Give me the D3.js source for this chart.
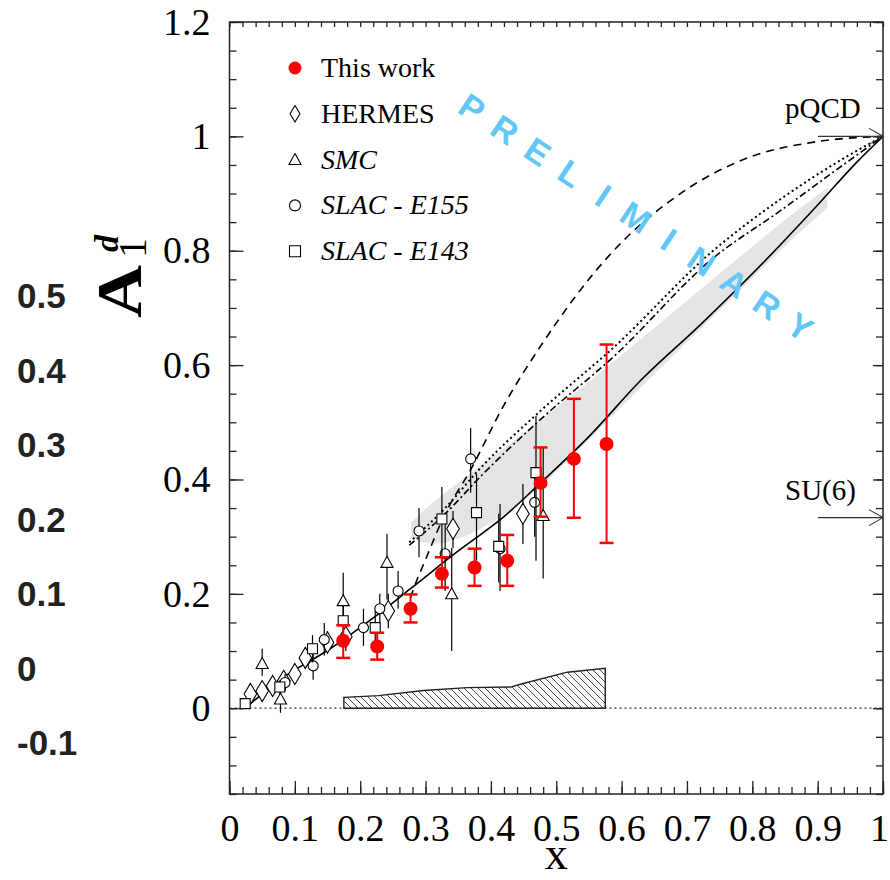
<!DOCTYPE html>
<html>
<head>
<meta charset="utf-8">
<script src="https://cdn.jsdelivr.net/npm/d3@7"></script>
<style>
  body { margin: 0; background: #fff; }
  svg text { font-family: "Liberation Serif", "Times New Roman", serif; fill: #000; }
</style>
</head>
<body>
<div id="chart"></div>
<script>
// ---- data ----
// this work: [x, A1d, low, high]
const thisWork = [
  [0.174, 0.118, 0.088, 0.145],
  [0.226, 0.108, 0.085, 0.132],
  [0.277, 0.174, 0.150, 0.199],
  [0.325, 0.235, 0.211, 0.264],
  [0.375, 0.246, 0.214, 0.279],
  [0.425, 0.258, 0.214, 0.303],
  [0.476, 0.394, 0.335, 0.456],
  [0.527, 0.436, 0.333, 0.541],
  [0.577, 0.462, 0.289, 0.636]
];
// world data: [x, A1d, low, high]
const hermes = [
  [0.032, 0.025, 0.020, 0.030], [0.050, 0.030, 0.024, 0.036], [0.066, 0.039, 0.032, 0.046],
  [0.083, 0.048, 0.040, 0.056], [0.100, 0.060, 0.050, 0.070], [0.116, 0.088, 0.070, 0.106],
  [0.150, 0.115, 0.095, 0.135], [0.178, 0.125, 0.100, 0.150], [0.243, 0.170, 0.140, 0.200],
  [0.342, 0.314, 0.280, 0.345], [0.449, 0.340, 0.287, 0.392]
];
const smc = [
  [0.050, 0.078, 0.057, 0.104], [0.078, 0.016, -0.008, 0.043], [0.174, 0.188, 0.148, 0.237],
  [0.241, 0.255, 0.190, 0.305], [0.340, 0.200, 0.100, 0.280], [0.480, 0.337, 0.227, 0.456]
];
const e155 = [
  [0.085, 0.045, 0.030, 0.060], [0.128, 0.074, 0.050, 0.100], [0.145, 0.120, 0.092, 0.149],
  [0.205, 0.141, 0.109, 0.174], [0.230, 0.174, 0.150, 0.200], [0.258, 0.205, 0.174, 0.240],
  [0.290, 0.310, 0.264, 0.350], [0.330, 0.270, 0.205, 0.330], [0.369, 0.436, 0.377, 0.490],
  [0.414, 0.279, 0.205, 0.357], [0.467, 0.360, 0.300, 0.420]
];
const e143 = [
  [0.024, 0.008, 0.000, 0.016], [0.077, 0.037, 0.025, 0.049], [0.127, 0.104, 0.080, 0.128],
  [0.174, 0.153, 0.125, 0.180], [0.223, 0.141, 0.110, 0.170], [0.325, 0.331, 0.253, 0.387],
  [0.378, 0.342, 0.258, 0.410], [0.412, 0.283, 0.220, 0.340], [0.469, 0.412, 0.258, 0.511]
];

// model curves
const fitX = [0.024, 0.08, 0.154, 0.22, 0.277, 0.35, 0.42, 0.476, 0.55, 0.629, 0.72, 0.82, 0.9, 0.96, 1.0];
const fitY = [0.0, 0.052, 0.104, 0.158, 0.209, 0.275, 0.335, 0.394, 0.475, 0.573, 0.67, 0.783, 0.88, 0.955, 1.0];
const dashX = [0.27, 0.282, 0.30, 0.33, 0.368, 0.42, 0.48, 0.578, 0.69, 0.792, 0.894, 1.0];
const dashY = [0.17, 0.21, 0.26, 0.34, 0.415, 0.53, 0.64, 0.788, 0.90, 0.962, 0.99, 1.0];
const dotX = [0.275, 0.33, 0.384, 0.476, 0.587, 0.74, 0.843, 0.945, 1.0];
const dotY = [0.29, 0.35, 0.42, 0.52, 0.63, 0.80, 0.89, 0.965, 1.0];
const dashDotY = [0.285, 0.34, 0.405, 0.505, 0.614, 0.787, 0.87, 0.955, 1.0];
const bandX = [0.278, 0.30, 0.35, 0.45, 0.55, 0.65, 0.75, 0.85, 0.915];
const bandHi = [0.325, 0.35, 0.395, 0.48, 0.57, 0.665, 0.76, 0.855, 0.91];
const bandLo = [0.30, 0.285, 0.29, 0.355, 0.47, 0.585, 0.695, 0.81, 0.875];
// systematic error band
const systX = [0.175, 0.228, 0.297, 0.364, 0.43, 0.445, 0.517, 0.575];
const systY = [0.019, 0.022, 0.031, 0.036, 0.037, 0.042, 0.063, 0.070];

// axes
const xMajor = [0, 0.1, 0.2, 0.3, 0.4, 0.5, 0.6, 0.7, 0.8, 0.9, 1];
const xLabels = ['0', '0.1', '0.2', '0.3', '0.4', '0.5', '0.6', '0.7', '0.8', '0.9', '1'];
const yMajor = [0, 0.2, 0.4, 0.6, 0.8, 1, 1.2];
const yLabels = ['0', '0.2', '0.4', '0.6', '0.8', '1', '1.2'];
const strayLabels = ['0.5', '0.4', '0.3', '0.2', '0.1', '0', '-0.1'];

const legendNames = ['This work', 'HERMES', 'SMC', 'SLAC - E155', 'SLAC - E143'];
const legendSymbols = ['dot', 'diamond', 'triangle', 'circle', 'square'];
const limits = [{ label: 'pQCD', value: 1 }, { label: 'SU(6)', value: 1 / 3 }];

// ---- drawing ----
const W = 890, H = 880;
const serif = '"Liberation Serif", "Times New Roman", serif';
const sans = '"Liberation Sans", Arial, sans-serif';
const x = d3.scaleLinear().domain([0, 1]).range([229.5, 883]);
const y = d3.scaleLinear().domain([-0.15, 1.2]).range([794, 22]);

const svg = d3.select('#chart').append('svg').attr('width', W).attr('height', H);

createStrayLabels(svg);
createBands(svg);
createCurves(svg);
createPoints(svg);
createAxes(svg);
createLegend(svg);
createLimits(svg);
createTitles(svg);
createWatermark(svg);

function createStrayLabels(svg) {
  svg.append('g').selectAll('text')
    .data(strayLabels)
    .enter().append('text')
    .attr('x', 17)
    .attr('y', (d, i) => 308 + i * 74.5)
    .style('font-family', sans)
    .style('font-weight', 'bold')
    .style('font-size', '35px')
    .style('fill', '#222')
    .text(d => d);
}

function createBands(svg) {
  const band = bandX.map((d, i) => [d, bandLo[i], bandHi[i]]);
  svg.append('path')
    .datum(band)
    .attr('fill', '#e4e4e4')
    .attr('d', d3.area()
      .x(d => x(d[0])).y0(d => y(d[1])).y1(d => y(d[2]))
      .curve(d3.curveBasis));

  const defs = svg.append('defs');
  defs.append('pattern')
    .attr('id', 'hatch')
    .attr('patternUnits', 'userSpaceOnUse')
    .attr('width', 7).attr('height', 7)
    .append('path')
    .attr('d', 'M-1,-1 L8,8 M-8,-1 L1,8 M6,-1 L15,8')
    .attr('stroke', '#333').attr('stroke-width', 0.9);

  const syst = systX.map((d, i) => [d, systY[i]]);
  svg.append('path')
    .datum(syst)
    .attr('fill', 'url(#hatch)')
    .attr('stroke', '#222')
    .attr('stroke-width', 1.4)
    .attr('d', d3.area().x(d => x(d[0])).y0(y(0)).y1(d => y(d[1])));

  svg.append('line')
    .attr('x1', x(0)).attr('x2', x(1))
    .attr('y1', y(0)).attr('y2', y(0))
    .attr('stroke', '#333')
    .attr('stroke-width', 1.2)
    .attr('stroke-dasharray', '2,3');
}

function createCurves(svg) {
  const line = d3.line().x(d => x(d[0])).y(d => y(d[1])).curve(d3.curveMonotoneX);
  const curves = [
    { xs: fitX, ys: fitY, dash: null, w: 1.6 },
    { xs: dashX, ys: dashY, dash: '8,6', w: 1.6 },
    { xs: dotX, ys: dotY, dash: '2,3', w: 2 },
    { xs: dotX, ys: dashDotY, dash: '7,3,2,3', w: 1.6 }
  ];
  svg.append('g').selectAll('path')
    .data(curves)
    .enter().append('path')
    .attr('fill', 'none')
    .attr('stroke', '#000')
    .attr('stroke-width', d => d.w)
    .attr('stroke-dasharray', d => d.dash)
    .attr('d', d => line(d.xs.map((v, i) => [v, d.ys[i]])));
}

function symbolPath(type, size) {
  const s = size;
  if (type === 'diamond') return `M0,${-s * 0.75} L${s * 0.45},0 L0,${s * 0.75} L${-s * 0.45},0 Z`;
  if (type === 'triangle') return `M0,${-s * 0.55} L${s * 0.55},${s * 0.45} L${-s * 0.55},${s * 0.45} Z`;
  if (type === 'square') return `M${-s / 2},${-s / 2} h${s} v${s} h${-s} Z`;
  return d3.arc()({ innerRadius: 0, outerRadius: s / 2, startAngle: 0, endAngle: 2 * Math.PI });
}

function createPoints(svg) {
  const sets = [
    { data: hermes, type: 'diamond', size: 14 },
    { data: smc, type: 'triangle', size: 11 },
    { data: e155, type: 'circle', size: 10 },
    { data: e143, type: 'square', size: 10 }
  ];
  sets.forEach(set => {
    const g = svg.append('g');
    g.selectAll('line')
      .data(set.data)
      .enter().append('line')
      .attr('x1', d => x(d[0])).attr('x2', d => x(d[0]))
      .attr('y1', d => y(d[2])).attr('y2', d => y(d[3]))
      .attr('stroke', '#000').attr('stroke-width', 1.2);
    g.selectAll('path')
      .data(set.data)
      .enter().append('path')
      .attr('transform', d => `translate(${x(d[0])},${y(d[1])})`)
      .attr('d', symbolPath(set.type, set.size))
      .attr('fill', 'white')
      .attr('stroke', '#000')
      .attr('stroke-width', 1.1);
  });

  const red = svg.append('g').attr('stroke', '#f00').attr('fill', '#f00');
  const cap = 7;
  const bars = red.selectAll('g.bar')
    .data(thisWork)
    .enter().append('g')
    .attr('class', 'bar');
  bars.append('line')
    .attr('x1', d => x(d[0])).attr('x2', d => x(d[0]))
    .attr('y1', d => y(d[2])).attr('y2', d => y(d[3]))
    .attr('stroke-width', 2);
  bars.append('line')
    .attr('x1', d => x(d[0]) - cap).attr('x2', d => x(d[0]) + cap)
    .attr('y1', d => y(d[2])).attr('y2', d => y(d[2]))
    .attr('stroke-width', 2.5);
  bars.append('line')
    .attr('x1', d => x(d[0]) - cap).attr('x2', d => x(d[0]) + cap)
    .attr('y1', d => y(d[3])).attr('y2', d => y(d[3]))
    .attr('stroke-width', 2.5);
  bars.append('circle')
    .attr('cx', d => x(d[0])).attr('cy', d => y(d[1]))
    .attr('r', 7).attr('stroke', 'none');
}

function createAxes(svg) {
  const x0 = x.range()[0], x1 = x.range()[1];
  const y0 = y.range()[0], y1 = y.range()[1];
  const xMinor = d3.range(0, 51).map(i => i / 50);
  const yMinor = d3.range(-3, 25).map(i => i / 20);
  const clean = g => {
    g.select('.domain').remove();
    g.attr('font-family', null);
    g.selectAll('line').attr('stroke', '#222').attr('stroke-width', 1.3);
  };

  svg.append('g').attr('transform', `translate(0,${y0})`)
    .call(d3.axisBottom(x).tickValues(xMinor).tickSize(-7).tickFormat(''))
    .call(clean);
  svg.append('g').attr('transform', `translate(0,${y0})`)
    .call(d3.axisBottom(x).tickValues(xMajor).tickSize(-13).tickPadding(20)
      .tickFormat((d, i) => xLabels[i]))
    .call(clean)
    .call(g => g.selectAll('text').style('font-size', '38px').style('font-family', serif))
    .call(g => g.selectAll('text').filter(d => d === 1).attr('dx', -4));
  svg.append('g').attr('transform', `translate(0,${y1})`)
    .call(d3.axisTop(x).tickValues(xMinor).tickSize(-5).tickFormat(''))
    .call(clean);

  svg.append('g').attr('transform', `translate(${x0},0)`)
    .call(d3.axisLeft(y).tickValues(yMinor).tickSize(-7).tickFormat(''))
    .call(clean);
  svg.append('g').attr('transform', `translate(${x0},0)`)
    .call(d3.axisLeft(y).tickValues(yMajor).tickSize(-14).tickPadding(19)
      .tickFormat((d, i) => yLabels[i]))
    .call(clean)
    .call(g => g.selectAll('text').style('font-size', '38px').style('font-family', serif));
  svg.append('g').attr('transform', `translate(${x1},0)`)
    .call(d3.axisRight(y).tickValues(yMinor).tickSize(-7).tickFormat(''))
    .call(clean);
  svg.append('g').attr('transform', `translate(${x1},0)`)
    .call(d3.axisRight(y).tickValues(yMajor).tickSize(-10).tickFormat(''))
    .call(clean);

  svg.append('rect')
    .attr('x', x0).attr('y', y1)
    .attr('width', x1 - x0).attr('height', y0 - y1)
    .attr('fill', 'none').attr('stroke', '#222').attr('stroke-width', 1.5);
}

function createLegend(svg) {
  const rows = svg.append('g').selectAll('g')
    .data(legendNames)
    .enter().append('g')
    .attr('transform', (d, i) => `translate(295,${68 + i * 45.8})`);
  rows.append('path')
    .attr('d', (d, i) => i === 0 ? symbolPath('circle', 13) : symbolPath(legendSymbols[i], 11))
    .attr('fill', (d, i) => i === 0 ? '#f00' : 'white')
    .attr('stroke', (d, i) => i === 0 ? 'none' : '#000')
    .attr('stroke-width', 1.1);
  rows.append('text')
    .attr('x', 26)
    .attr('y', 9)
    .style('font-family', serif)
    .style('font-size', '28px')
    .style('font-style', (d, i) => i >= 2 ? 'italic' : 'normal')
    .text(d => d);
}

function createLimits(svg) {
  const g = svg.append('g').selectAll('g')
    .data(limits)
    .enter().append('g')
    .attr('transform', d => `translate(0,${y(d.value)})`);
  g.append('line')
    .attr('x1', 818).attr('x2', x(1))
    .attr('stroke', '#333').attr('stroke-width', 1.3);
  g.append('path')
    .attr('d', `M${x(1) - 14},-8 L${x(1)},0 L${x(1) - 14},8`)
    .attr('fill', 'none').attr('stroke', '#333').attr('stroke-width', 1.1);
  g.append('text')
    .attr('x', 785).attr('y', -18)
    .style('font-family', serif)
    .style('font-size', '29px')
    .text(d => d.label);
}

function createTitles(svg) {
  svg.append('text')
    .attr('x', x(0.5)).attr('y', 869)
    .attr('text-anchor', 'middle')
    .style('font-family', serif)
    .style('font-size', '46px')
    .text('x');

  const t = svg.append('g').attr('transform', 'translate(141,318) rotate(-90)');
  t.append('text')
    .attr('transform', 'scale(1.15,1)')
    .style('font-family', serif)
    .style('font-size', '64px').style('font-weight', 'bold')
    .text('A');
  t.append('text')
    .attr('x', 60).attr('y', 5)
    .style('font-family', serif)
    .style('font-size', '40px')
    .text('1');
  t.append('text')
    .attr('x', 66).attr('y', -23)
    .style('font-family', serif)
    .style('font-size', '34px').style('font-style', 'italic').style('font-weight', 'bold')
    .text('d');
}

function createWatermark(svg) {
  const word = 'PRELIMINARY'.split('');
  const start = [472, 108], end = [800, 327];
  const angle = Math.atan2(end[1] - start[1], end[0] - start[0]) * 180 / Math.PI;
  svg.append('g').selectAll('text')
    .data(word)
    .enter().append('text')
    .attr('transform', (d, i) => {
      const t = i / (word.length - 1);
      return `translate(${start[0] + t * (end[0] - start[0])},${start[1] + t * (end[1] - start[1])}) rotate(${angle})`;
    })
    .attr('text-anchor', 'middle')
    .attr('dy', '0.35em')
    .style('font-family', sans)
    .style('font-weight', 'bold')
    .style('font-size', '34px')
    .style('fill', '#62c6f7')
    .text(d => d);
}
</script>
</body>
</html>
